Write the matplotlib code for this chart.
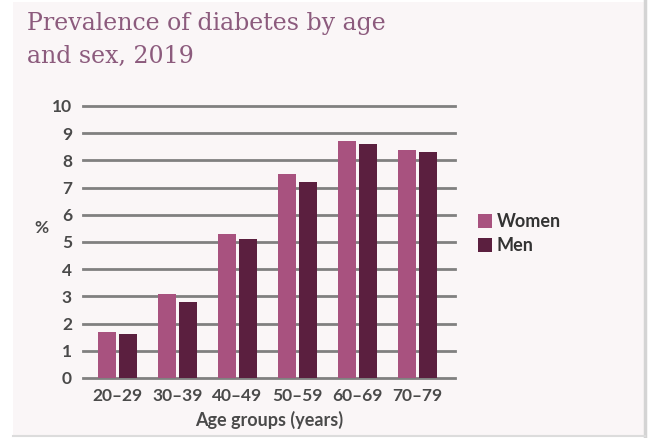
import matplotlib
matplotlib.use("Agg")
import matplotlib.pyplot as plt
from matplotlib.patches import Rectangle
from matplotlib.lines import Line2D
import numpy as np

age_groups = ["20–29", "30–39", "40–49", "50–59", "60–69", "70–79"]
women = [1.7, 3.1, 5.3, 7.5, 8.7, 8.4]
men = [1.6, 2.8, 5.1, 7.2, 8.6, 8.3]
y_ticks = list(range(0, 11))

WOMEN_COLOR = "#a8527f"
MEN_COLOR = "#5b1f3f"
PANEL_COLOR = "#faf6f7"
GRID_COLOR = "#808080"
TEXT_COLOR = "#4a4a4a"
TITLE_COLOR = "#8c5b7d"

W, H = 652, 438
fig = plt.figure(figsize=(W / 100, H / 100), dpi=100)
fig.patch.set_facecolor("white")

# light panel behind the chart with a thin grey edge on right and bottom
fig.add_artist(Rectangle((13 / W, 1 - 435 / H), (644 - 13) / W, (435 - 2) / H,
                         transform=fig.transFigure, facecolor=PANEL_COLOR,
                         edgecolor="none", zorder=-10))
fig.add_artist(Line2D([645 / W, 645 / W], [1 - 436 / H, 1 - 1 / H],
                      transform=fig.transFigure, color="#d4d4d4", lw=2.5, zorder=-9))
fig.add_artist(Line2D([13 / W, 645 / W], [1 - 436 / H, 1 - 436 / H],
                      transform=fig.transFigure, color="#dcdcdc", lw=1.5, zorder=-9))

ax = fig.add_axes([83 / W, 1 - 378 / H, (455 - 83) / W, (378 - 106) / H])
ax.set_facecolor("none")

x = np.arange(len(age_groups))
bw = 0.3
off = 0.175
ax.bar(x - off, women, bw, color=WOMEN_COLOR, zorder=3, label="Women")
ax.bar(x + off, men, bw, color=MEN_COLOR, zorder=3, label="Men")

ax.set_xlim(-0.575, 5.625)
ax.set_ylim(0, 10)
ax.set_yticks(y_ticks)
ax.set_yticklabels([str(t) for t in y_ticks])
for t in y_ticks:
    ax.axhline(t, color=GRID_COLOR, lw=2, zorder=1, clip_on=False)

ax.set_xticks(x)
ax.set_xticklabels(age_groups)
for s in ax.spines.values():
    s.set_visible(False)
ax.tick_params(axis="both", length=0, colors=TEXT_COLOR, labelsize=12.5)
ax.tick_params(axis="y", pad=8)
ax.tick_params(axis="x", pad=7)
for lab in ax.get_xticklabels() + ax.get_yticklabels():
    lab.set_fontweight("bold")
    lab.set_fontfamily("Lato")

ax.set_xlabel("Age groups (years)", fontsize=13, color=TEXT_COLOR,
              family="Lato", fontweight="bold", labelpad=5)

fig.text(41 / W, 1 - 228 / H, "%", fontsize=12.5, color=TEXT_COLOR, family="Lato",
         fontweight="bold", ha="center", va="center")

title_lines = [("Prevalence of diabetes by age", 30), ("and sex, 2019", 63)]
for line, base in title_lines:
    fig.text(27 / W, 1 - base / H, line, fontsize=17, color=TITLE_COLOR,
             family="DejaVu Serif", ha="left", va="baseline")

# legend
legend_items = [("Women", WOMEN_COLOR, 221), ("Men", MEN_COLOR, 245)]
for name, col, yc in legend_items:
    fig.add_artist(Rectangle((478 / W, 1 - (yc + 7) / H), 14 / W, 14 / H,
                             transform=fig.transFigure, facecolor=col,
                             edgecolor="none"))
    fig.text(497 / W, 1 - yc / H, name, fontsize=13, color="#333333",
             family="Lato", fontweight="bold", ha="left", va="center")

fig.savefig("out.png", dpi=100)
